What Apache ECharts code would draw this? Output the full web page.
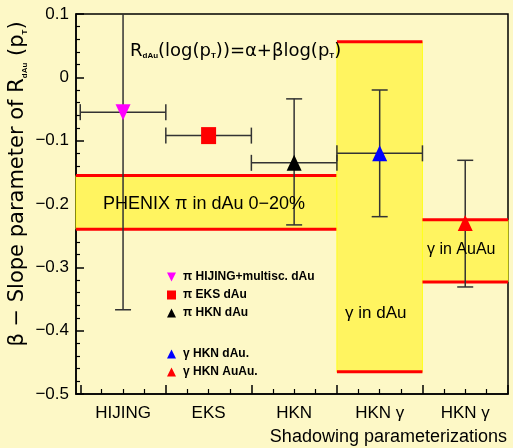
<!DOCTYPE html>
<html>
<head>
<meta charset="utf-8">
<title>Slope parameter of RdAu</title>
<script src="https://cdn.jsdelivr.net/npm/echarts@6/dist/echarts.min.js"></script>
<style>
  html, body { margin: 0; padding: 0; background: #fdf8c6; }
  #chart { width: 513px; height: 448px; }
</style>
</head>
<body>
<div id="chart"></div>
<script>
// categories on the x axis (one bin per model, centred on .5)
const categories = ['HIJING', 'EKS', 'HKN', 'HKN γ', 'HKN γ'];
const catCenters = [0.5, 1.5, 2.5, 3.5, 4.5];

// model points: beta and its errors
const seriesNames = ['π HIJING+multisc. dAu', 'π EKS dAu', 'π HKN dAu', 'γ HKN dAu.', 'γ HKN AuAu.'];
const betaValues = [-0.055, -0.092, -0.135, -0.120, -0.230];
const yErrLow = [-0.367, null, -0.233, -0.220, -0.331];
const yErrHigh = [0.16, null, -0.034, -0.020, -0.131];
const xErrLow = [0, 1, 2, 3, null];
const xErrHigh = [1, 2, 3, 4, null];

// measured bands
const bandLabels = ['PHENIX π in dAu 0−20%', 'γ in dAu', 'γ in AuAu'];
const bandXFrom = [-0.05, 3, 4];
const bandXTo = [3, 4, 5];
const bandLow = [-0.240, -0.465, -0.323];
const bandHigh = [-0.155, 0.056, -0.225];

// axis ticks
const yTicks = [-0.5, -0.4, -0.3, -0.2, -0.1, 0, 0.1];
const xMajorTicks = [0, 1, 2, 3, 4, 5];
const xMinorTicks = [];
for (let i = 1; i < 20; i++) {
  if (i % 4) xMinorTicks.push(i / 4);
}

const FONT = '"Liberation Sans", Arial, sans-serif';
const WIDE = '"DejaVu Sans", sans-serif';
const markerColors = ['#ff00ff', '#ff0000', '#000000', '#0000ff', '#ff0000'];
const markerShapes = ['triangle', 'rect', 'triangle', 'triangle', 'triangle'];

const chart = echarts.init(document.getElementById('chart'));

function fmtY(v) {
  v = Math.round(v * 10) / 10;
  if (v === 0) return '0';
  return (v < 0 ? '−' : '') + Math.abs(v).toFixed(1);
}

const bandData = bandLabels.map((name, i) => [bandXFrom[i], bandXTo[i], bandLow[i], bandHigh[i]]);

function renderBand(params, api) {
  const p0 = api.coord([api.value(0), api.value(3)]);
  const p1 = api.coord([api.value(1), api.value(2)]);
  return {
    type: 'group',
    children: [
      {
        type: 'rect',
        shape: { x: p0[0], y: p0[1], width: p1[0] - p0[0], height: p1[1] - p0[1] },
        style: { fill: '#fff460', stroke: '#ffff1e', lineWidth: 1 }
      },
      {
        type: 'line',
        shape: { x1: p0[0], y1: p0[1], x2: p1[0], y2: p0[1] },
        style: { stroke: '#ff0000', lineWidth: 3 }
      },
      {
        type: 'line',
        shape: { x1: p0[0], y1: p1[1], x2: p1[0], y2: p1[1] },
        style: { stroke: '#ff0000', lineWidth: 3 }
      }
    ]
  };
}

function renderErr(params, api) {
  const i = params.dataIndex;
  const c = api.coord([api.value(0), api.value(1)]);
  const cap = 8;
  const st = { stroke: '#333', lineWidth: 1.5 };
  const kids = [];
  if (xErrLow[i] != null) {
    const a = api.coord([xErrLow[i], betaValues[i]]);
    const b = api.coord([xErrHigh[i], betaValues[i]]);
    kids.push({ type: 'line', shape: { x1: a[0], y1: c[1], x2: b[0], y2: c[1] }, style: st });
    kids.push({ type: 'line', shape: { x1: a[0], y1: c[1] - cap, x2: a[0], y2: c[1] + cap }, style: st });
    kids.push({ type: 'line', shape: { x1: b[0], y1: c[1] - cap, x2: b[0], y2: c[1] + cap }, style: st });
  }
  if (yErrLow[i] != null) {
    const lo = api.coord([catCenters[i], yErrLow[i]]);
    const hi = api.coord([catCenters[i], yErrHigh[i]]);
    kids.push({ type: 'line', shape: { x1: c[0], y1: lo[1], x2: c[0], y2: hi[1] }, style: st });
    kids.push({ type: 'line', shape: { x1: c[0] - cap, y1: lo[1], x2: c[0] + cap, y2: lo[1] }, style: st });
    kids.push({ type: 'line', shape: { x1: c[0] - cap, y1: hi[1], x2: c[0] + cap, y2: hi[1] }, style: st });
  }
  return { type: 'group', children: kids };
}

const pointSeries = seriesNames.map((name, i) => ({
  name: name,
  type: 'scatter',
  z: 5,
  data: [[catCenters[i], betaValues[i]]],
  symbol: markerShapes[i],
  symbolSize: markerShapes[i] === 'rect' ? [15, 17] : [15, 16],
  symbolRotate: i === 0 ? 180 : 0,
  itemStyle: { color: markerColors[i], opacity: 1 },
  emphasis: { disabled: true }
}));

const legendText = { fontFamily: FONT, fontSize: 12, fontWeight: 'bold', color: '#000', lineHeight: 12, padding: [0, 0, 0, 2] };
const downTri = 'path://M0,0 L10,0 L5,10 Z';
const subStyle = { fontSize: 8, fontWeight: 'bold', verticalAlign: 'bottom', padding: [6, 0, 0, 0] };

chart.setOption({
  animation: false,
  backgroundColor: '#fdf8c6',
  textStyle: { fontFamily: FONT },
  grid: { left: 76, top: 14, right: 5, bottom: 54, show: true, borderColor: '#000', borderWidth: 1.5, backgroundColor: 'transparent' },
  xAxis: [
    {
      type: 'value', min: -0.05, max: 5,
      axisLine: { onZero: false, lineStyle: { color: '#000', width: 1.5 } },
      splitLine: { show: false },
      axisTick: { inside: true, length: 9, customValues: xMajorTicks, lineStyle: { color: '#000', width: 1.5 } },
      axisLabel: {
        customValues: catCenters,
        formatter: v => categories[Math.round(v - 0.5)],
        color: '#000', fontSize: 17, margin: 11
      },
      name: 'Shadowing parameterizations',
      nameLocation: 'end',
      nameGap: -1,
      nameTextStyle: { align: 'right', verticalAlign: 'top', fontSize: 18, color: '#000', padding: [34, 0, 0, 0] }
    },
    {
      type: 'value', min: -0.05, max: 5, position: 'bottom',
      axisLine: { show: false, onZero: false },
      splitLine: { show: false },
      axisTick: { inside: true, length: 5, customValues: xMinorTicks, lineStyle: { color: '#000', width: 1.2 } },
      axisLabel: { show: false }
    }
  ],
  yAxis: {
    type: 'value', min: -0.5, max: 0.1, interval: 0.1,
    axisLine: { show: true, onZero: false, lineStyle: { color: '#000', width: 1.5 } },
    splitLine: { show: false },
    axisTick: { inside: true, length: 8, lineStyle: { color: '#000', width: 1.5 } },
    minorTick: { show: true, splitNumber: 5, length: 4, lineStyle: { color: '#000', width: 1.2 } },
    axisLabel: { formatter: fmtY, fontSize: 17, color: '#000', margin: 7, customValues: yTicks }
  },
  legend: [
    {
      data: [{ name: seriesNames[0], icon: downTri }, seriesNames[1], seriesNames[2]],
      orient: 'vertical', left: 162, top: 266, itemWidth: 9, itemHeight: 9, itemGap: 6,
      selectedMode: false, textStyle: legendText
    },
    {
      data: [seriesNames[3], seriesNames[4]],
      orient: 'vertical', left: 162, top: 343, itemWidth: 9, itemHeight: 9, itemGap: 6,
      selectedMode: false, textStyle: legendText
    }
  ],
  graphic: [
    {
      type: 'text', left: 130, top: 42, z: 10,
      style: {
        text: 'R{s|dAu}(log(p{s|T}))=α+βlog(p{s|T})',
        fontFamily: WIDE, fontSize: 18, fill: '#000',
        rich: { s: subStyle }
      }
    },
    {
      type: 'text', left: 103, top: 195, z: 10,
      style: { text: bandLabels[0], fontFamily: FONT, fontSize: 18, fill: '#000' }
    },
    {
      type: 'text', left: 345, top: 305, z: 10,
      style: { text: bandLabels[1], fontFamily: FONT, fontSize: 17, fill: '#000' }
    },
    {
      type: 'text', left: 427, top: 242, z: 10,
      style: { text: bandLabels[2], fontFamily: FONT, fontSize: 16, fill: '#000' }
    },
    {
      type: 'text', x: 18, y: 184, rotation: Math.PI / 2, z: 10,
      style: {
        text: 'β − Slope parameter of R{s|dAu} (p{s|T})',
        fontFamily: WIDE, fontSize: 21, fill: '#000', align: 'center', verticalAlign: 'middle',
        rich: { s: subStyle }
      }
    }
  ],
  series: [
    {
      type: 'custom', name: 'bands', z: 1, silent: true,
      renderItem: renderBand,
      encode: { x: [0, 1], y: [2, 3] },
      data: bandData
    },
    {
      type: 'custom', name: 'errors', z: 3, silent: true, clip: true,
      renderItem: renderErr,
      encode: { x: 0, y: 1 },
      data: catCenters.map((x, i) => [x, betaValues[i]])
    }
  ].concat(pointSeries)
});

window.addEventListener('resize', () => chart.resize());
</script>
</body>
</html>
